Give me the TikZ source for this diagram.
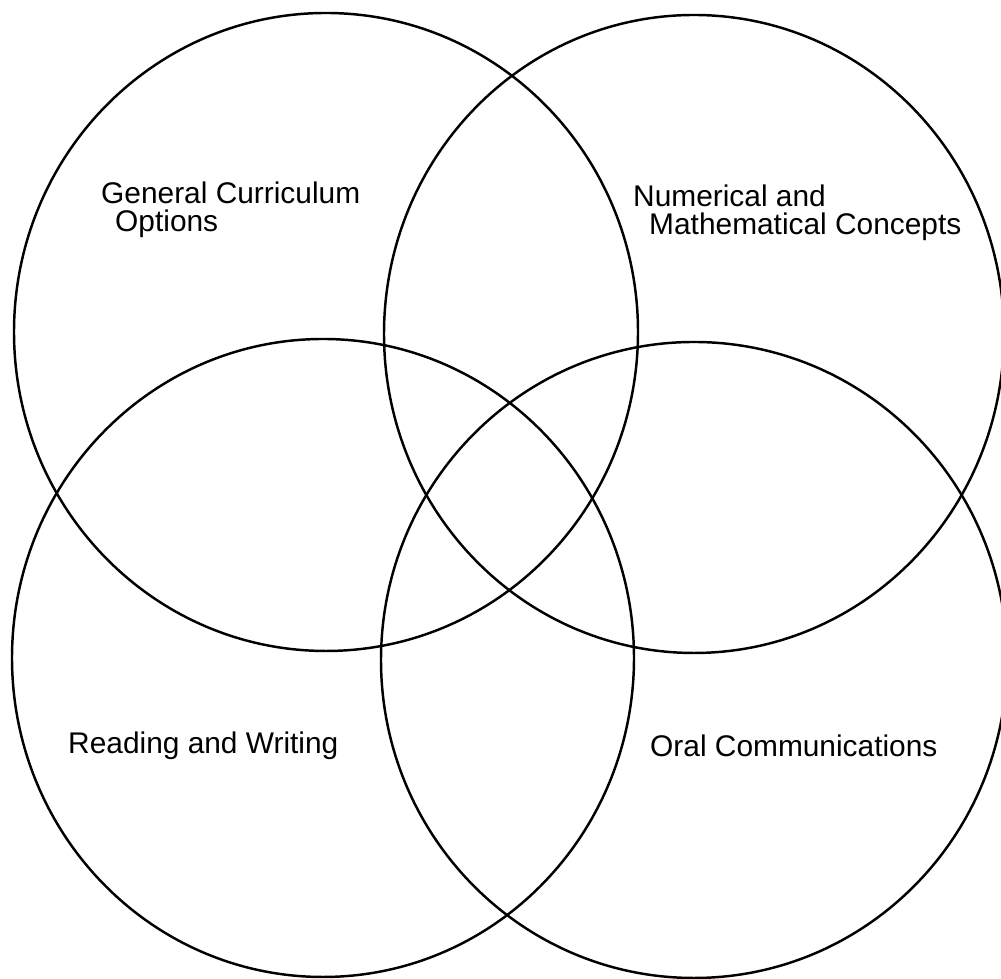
\documentclass[tikz,border=0pt]{standalone}
\usepackage{fontspec}
\setmainfont{Liberation Sans}
\begin{document}
\begin{tikzpicture}[line width=.7pt,
	lbl/.style={anchor=base west, inner sep=0pt, align=left, font=\fontsize{8.5}{8.1}\selectfont}]
	\useasboundingbox (0,0) rectangle (10.01,9.79);
	\clip (0,0) rectangle (10.01,9.79);
	\draw (3.26,6.47) ellipse [x radius=3.12, y radius=3.19];
	\draw (6.94,6.45) ellipse [x radius=3.10, y radius=3.19];
	\draw (3.23,3.21) ellipse [x radius=3.11, y radius=3.19];
	\draw (6.94,3.19) ellipse [x radius=3.13, y radius=3.18];
	\node[lbl] (gen) at (1.00,7.47) {General Curriculum\\\hspace{1.4mm}Options};
	\node[lbl] (num) at (6.32,7.44) {Numerical and\\\hspace{1.6mm}Mathematical Concepts};
	\node[lbl] (read) at (0.67,2.25) {Reading and Writing};
	\node[lbl] (oral) at (6.49,2.22) {Oral Communications};
\end{tikzpicture}
\end{document}
